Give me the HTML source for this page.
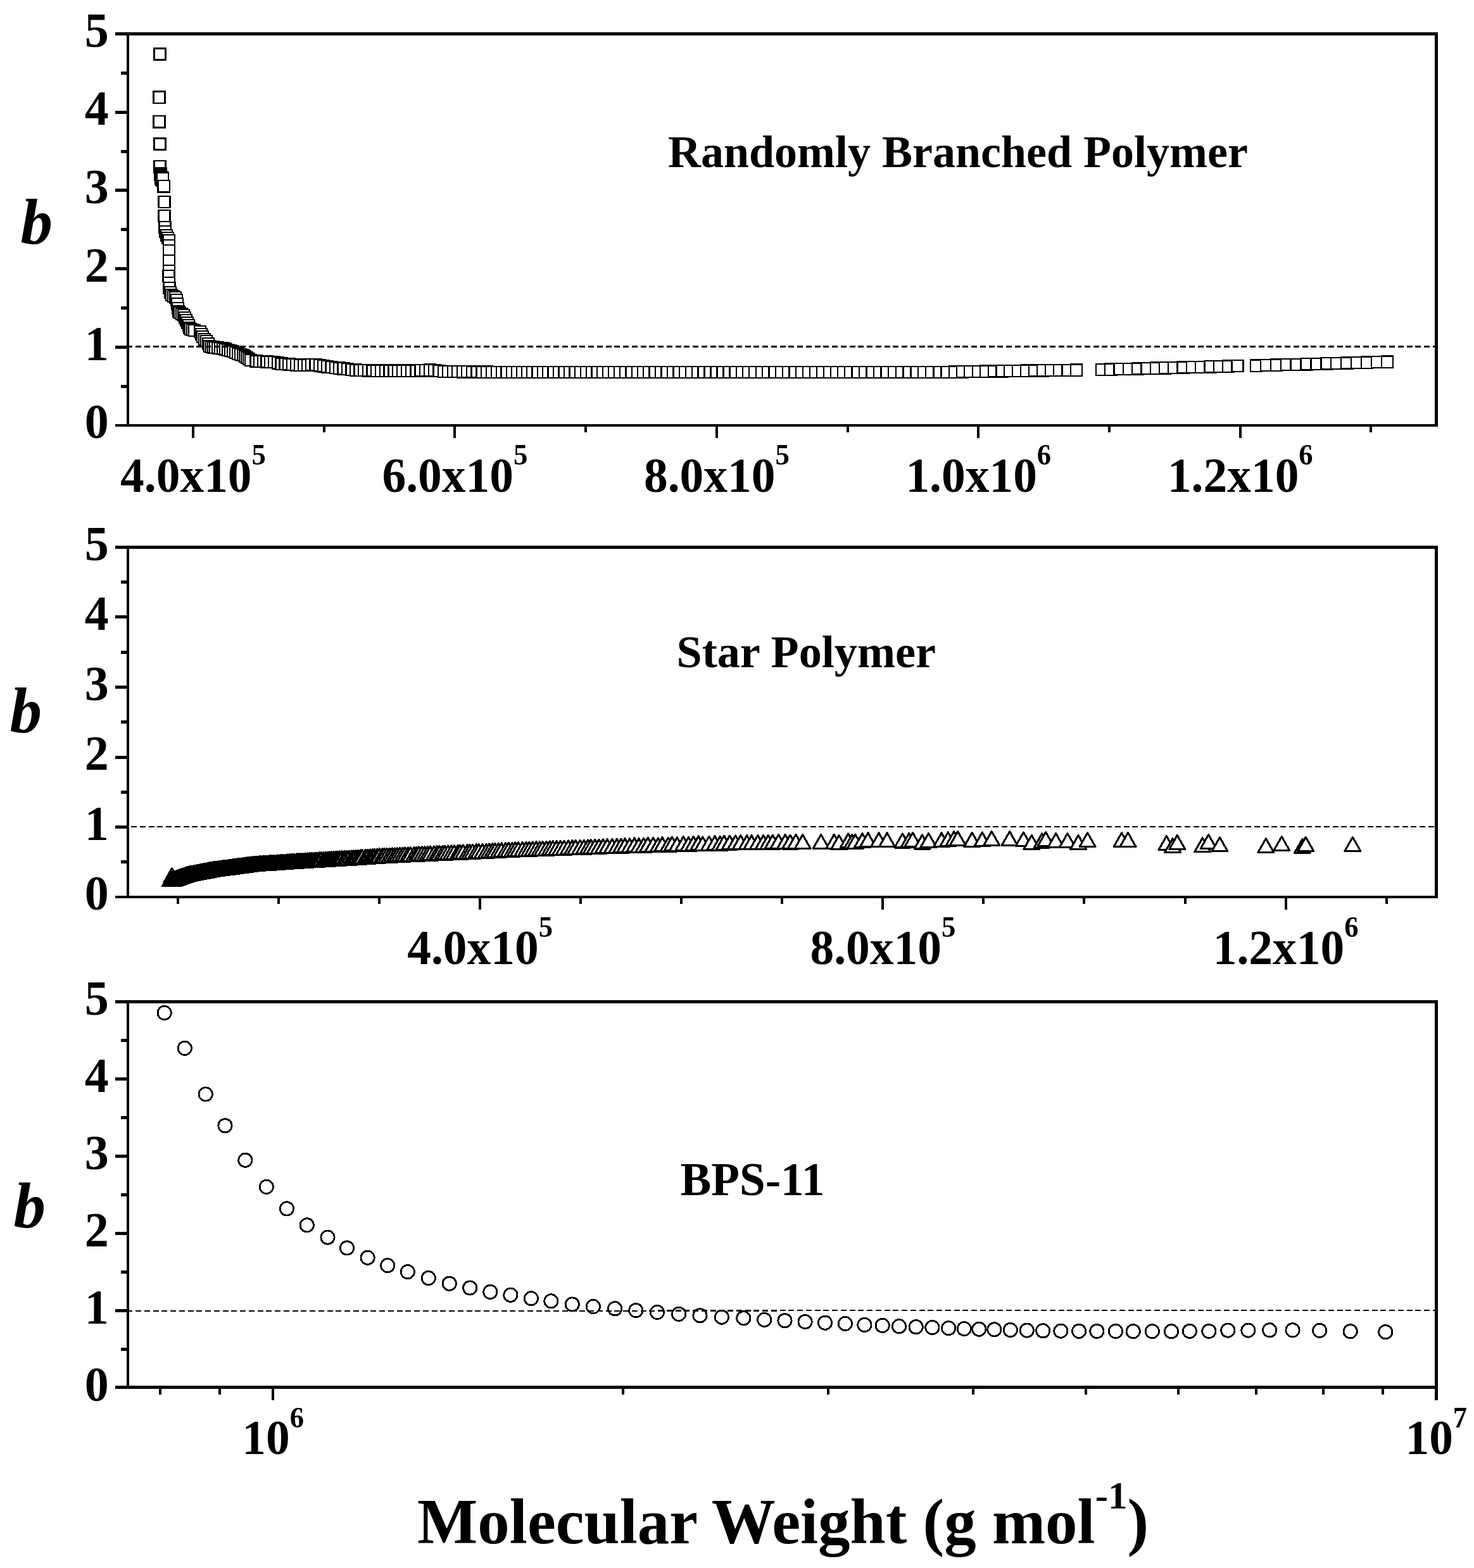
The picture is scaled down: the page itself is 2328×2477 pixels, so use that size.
<!DOCTYPE html>
<html lang="en"><head><meta charset="utf-8"><title>Figure</title>
<style>html,body{margin:0;padding:0;background:#fff;overflow:hidden}svg{display:block}</style></head>
<body>
<svg width="2328" height="2477" viewBox="0 0 2328 2477">
<rect width="2328" height="2477" fill="#fff"/>
<g fill="#000" shape-rendering="crispEdges">
<rect x="182" y="51" width="2089" height="5"/>
<rect x="182" y="670" width="2089" height="4"/>
<rect x="200" y="51" width="4" height="623"/>
<rect x="2266" y="51" width="5" height="623"/>
<rect x="182" y="546" width="18" height="5"/>
<rect x="182" y="422" width="18" height="5"/>
<rect x="182" y="298" width="18" height="5"/>
<rect x="182" y="175" width="18" height="5"/>
<rect x="191" y="608" width="9" height="5"/>
<rect x="191" y="484" width="9" height="5"/>
<rect x="191" y="360" width="9" height="5"/>
<rect x="191" y="237" width="9" height="5"/>
<rect x="191" y="113" width="9" height="5"/>
<rect x="182" y="862" width="2089" height="5"/>
<rect x="182" y="1415" width="2089" height="4"/>
<rect x="200" y="862" width="4" height="557"/>
<rect x="2266" y="862" width="5" height="557"/>
<rect x="182" y="1304" width="18" height="5"/>
<rect x="182" y="1194" width="18" height="5"/>
<rect x="182" y="1083" width="18" height="5"/>
<rect x="182" y="972" width="18" height="5"/>
<rect x="191" y="1359" width="9" height="5"/>
<rect x="191" y="1249" width="9" height="5"/>
<rect x="191" y="1138" width="9" height="5"/>
<rect x="191" y="1028" width="9" height="5"/>
<rect x="191" y="917" width="9" height="5"/>
<rect x="182" y="1580" width="2089" height="5"/>
<rect x="182" y="2189" width="2089" height="5"/>
<rect x="200" y="1580" width="4" height="614"/>
<rect x="2266" y="1580" width="5" height="614"/>
<rect x="182" y="2068" width="18" height="5"/>
<rect x="182" y="1946" width="18" height="5"/>
<rect x="182" y="1824" width="18" height="5"/>
<rect x="182" y="1702" width="18" height="5"/>
<rect x="191" y="2129" width="9" height="5"/>
<rect x="191" y="2007" width="9" height="5"/>
<rect x="191" y="1885" width="9" height="5"/>
<rect x="191" y="1763" width="9" height="5"/>
<rect x="191" y="1641" width="9" height="5"/>
<rect x="303" y="674" width="4" height="18"/>
<rect x="510" y="674" width="4" height="9"/>
<rect x="716" y="674" width="4" height="18"/>
<rect x="923" y="674" width="4" height="9"/>
<rect x="1130" y="674" width="4" height="18"/>
<rect x="1337" y="674" width="4" height="9"/>
<rect x="1543" y="674" width="4" height="18"/>
<rect x="1750" y="674" width="4" height="9"/>
<rect x="1957" y="674" width="4" height="18"/>
<rect x="2163" y="674" width="4" height="9"/>
<rect x="279" y="1419" width="4" height="9"/>
<rect x="438" y="1419" width="4" height="9"/>
<rect x="597" y="1419" width="4" height="9"/>
<rect x="756" y="1419" width="4" height="18"/>
<rect x="915" y="1419" width="4" height="9"/>
<rect x="1074" y="1419" width="4" height="9"/>
<rect x="1233" y="1419" width="4" height="9"/>
<rect x="1392" y="1419" width="4" height="18"/>
<rect x="1551" y="1419" width="4" height="9"/>
<rect x="1710" y="1419" width="4" height="9"/>
<rect x="1870" y="1419" width="4" height="9"/>
<rect x="2029" y="1419" width="4" height="18"/>
<rect x="2188" y="1419" width="4" height="9"/>
<rect x="251" y="2194" width="4" height="9"/>
<rect x="345" y="2194" width="4" height="9"/>
<rect x="429" y="2194" width="4" height="18"/>
<rect x="982" y="2194" width="4" height="9"/>
<rect x="1306" y="2194" width="4" height="9"/>
<rect x="1535" y="2194" width="4" height="9"/>
<rect x="1713" y="2194" width="4" height="9"/>
<rect x="1859" y="2194" width="4" height="9"/>
<rect x="1982" y="2194" width="4" height="9"/>
<rect x="2088" y="2194" width="4" height="9"/>
<rect x="2182" y="2194" width="4" height="9"/>
<rect x="2266" y="2194" width="5" height="18"/>
</g>
<g fill="#fff" stroke="#000" stroke-width="2.3" shape-rendering="crispEdges">
<rect x="243.4" y="76.4" width="18.2" height="18.2"/>
<rect x="242.4" y="144.5" width="18.2" height="18.2"/>
<rect x="242.4" y="183.3" width="18.2" height="18.2"/>
<rect x="243.4" y="218.4" width="18.2" height="18.2"/>
<rect x="243.4" y="254.2" width="18.2" height="18.2"/>
<rect x="244.4" y="264.9" width="18.2" height="18.2"/>
<rect x="244.6" y="266.9" width="18.2" height="18.2"/>
<rect x="244.9" y="268.9" width="18.2" height="18.2"/>
<rect x="245.2" y="270.9" width="18.2" height="18.2"/>
<rect x="245.5" y="272.9" width="18.2" height="18.2"/>
<rect x="245.9" y="273.9" width="18.2" height="18.2"/>
<rect x="246.3" y="274.9" width="18.2" height="18.2"/>
<rect x="246.7" y="275.4" width="18.2" height="18.2"/>
<rect x="247.1" y="275.4" width="18.2" height="18.2"/>
<rect x="247.9" y="272.4" width="18.2" height="18.2"/>
<rect x="249.5" y="285.2" width="18.2" height="18.2"/>
<rect x="250.4" y="310.1" width="18.2" height="18.2"/>
<rect x="250.4" y="332.0" width="18.2" height="18.2"/>
<rect x="251.4" y="350.1" width="18.2" height="18.2"/>
<rect x="251.9" y="356.9" width="18.2" height="18.2"/>
<rect x="253.9" y="362.9" width="18.2" height="18.2"/>
<rect x="255.9" y="366.9" width="18.2" height="18.2"/>
<rect x="257.9" y="370.9" width="18.2" height="18.2"/>
<rect x="257.9" y="378.9" width="18.2" height="18.2"/>
<rect x="257.9" y="386.9" width="18.2" height="18.2"/>
<rect x="257.9" y="402.9" width="18.2" height="18.2"/>
<rect x="257.9" y="418.9" width="18.2" height="18.2"/>
<rect x="257.4" y="426.9" width="18.2" height="18.2"/>
<rect x="257.9" y="437.9" width="18.2" height="18.2"/>
<rect x="258.4" y="445.9" width="18.2" height="18.2"/>
<rect x="259.9" y="452.9" width="18.2" height="18.2"/>
<rect x="261.9" y="456.9" width="18.2" height="18.2"/>
<rect x="264.9" y="458.9" width="18.2" height="18.2"/>
<rect x="267.9" y="460.9" width="18.2" height="18.2"/>
<rect x="269.9" y="464.9" width="18.2" height="18.2"/>
<rect x="270.9" y="470.9" width="18.2" height="18.2"/>
<rect x="271.9" y="477.9" width="18.2" height="18.2"/>
<rect x="272.9" y="482.9" width="18.2" height="18.2"/>
<rect x="274.9" y="484.9" width="18.2" height="18.2"/>
<rect x="277.9" y="486.9" width="18.2" height="18.2"/>
<rect x="280.9" y="488.9" width="18.2" height="18.2"/>
<rect x="282.9" y="492.9" width="18.2" height="18.2"/>
<rect x="284.9" y="496.9" width="18.2" height="18.2"/>
<rect x="286.9" y="500.9" width="18.2" height="18.2"/>
<rect x="288.9" y="504.9" width="18.2" height="18.2"/>
<rect x="289.9" y="508.9" width="18.2" height="18.2"/>
<rect x="291.9" y="510.9" width="18.2" height="18.2"/>
<rect x="294.9" y="511.9" width="18.2" height="18.2"/>
<rect x="297.9" y="512.9" width="18.2" height="18.2"/>
<rect x="306.9" y="514.9" width="18.2" height="18.2"/>
<rect x="308.9" y="518.9" width="18.2" height="18.2"/>
<rect x="310.9" y="522.9" width="18.2" height="18.2"/>
<rect x="313.9" y="526.9" width="18.2" height="18.2"/>
<rect x="316.9" y="529.9" width="18.2" height="18.2"/>
<rect x="319.9" y="533.9" width="18.2" height="18.2"/>
<rect x="321.9" y="537.9" width="18.2" height="18.2"/>
<rect x="324.9" y="538.9" width="18.2" height="18.2"/>
<rect x="327.9" y="539.4" width="18.2" height="18.2"/>
<rect x="330.9" y="539.9" width="18.2" height="18.2"/>
<rect x="334.9" y="540.4" width="18.2" height="18.2"/>
<rect x="338.9" y="540.9" width="18.2" height="18.2"/>
<rect x="342.9" y="541.4" width="18.2" height="18.2"/>
<rect x="346.9" y="542.4" width="18.2" height="18.2"/>
<rect x="350.9" y="543.9" width="18.2" height="18.2"/>
<rect x="354.9" y="544.9" width="18.2" height="18.2"/>
<rect x="358.9" y="545.9" width="18.2" height="18.2"/>
<rect x="362.9" y="547.9" width="18.2" height="18.2"/>
<rect x="366.9" y="549.9" width="18.2" height="18.2"/>
<rect x="370.9" y="550.9" width="18.2" height="18.2"/>
<rect x="374.9" y="551.9" width="18.2" height="18.2"/>
<rect x="377.9" y="553.9" width="18.2" height="18.2"/>
<rect x="380.9" y="555.9" width="18.2" height="18.2"/>
<rect x="383.9" y="557.9" width="18.2" height="18.2"/>
<rect x="386.9" y="559.9" width="18.2" height="18.2"/>
<rect x="395.6" y="561.4" width="18.2" height="18.2"/>
<rect x="401.2" y="561.7" width="18.2" height="18.2"/>
<rect x="406.8" y="562.1" width="18.2" height="18.2"/>
<rect x="412.5" y="562.4" width="18.2" height="18.2"/>
<rect x="418.2" y="562.7" width="18.2" height="18.2"/>
<rect x="424.0" y="563.1" width="18.2" height="18.2"/>
<rect x="429.7" y="564.3" width="18.2" height="18.2"/>
<rect x="435.6" y="565.5" width="18.2" height="18.2"/>
<rect x="441.4" y="566.0" width="18.2" height="18.2"/>
<rect x="447.3" y="566.4" width="18.2" height="18.2"/>
<rect x="453.2" y="566.9" width="18.2" height="18.2"/>
<rect x="459.2" y="567.3" width="18.2" height="18.2"/>
<rect x="465.2" y="567.8" width="18.2" height="18.2"/>
<rect x="471.2" y="567.7" width="18.2" height="18.2"/>
<rect x="477.2" y="567.5" width="18.2" height="18.2"/>
<rect x="483.3" y="567.3" width="18.2" height="18.2"/>
<rect x="489.5" y="567.2" width="18.2" height="18.2"/>
<rect x="495.7" y="568.2" width="18.2" height="18.2"/>
<rect x="501.9" y="569.3" width="18.2" height="18.2"/>
<rect x="508.1" y="570.3" width="18.2" height="18.2"/>
<rect x="514.4" y="571.1" width="18.2" height="18.2"/>
<rect x="520.7" y="571.8" width="18.2" height="18.2"/>
<rect x="527.1" y="572.6" width="18.2" height="18.2"/>
<rect x="533.5" y="573.3" width="18.2" height="18.2"/>
<rect x="539.9" y="574.0" width="18.2" height="18.2"/>
<rect x="546.4" y="574.8" width="18.2" height="18.2"/>
<rect x="552.9" y="575.5" width="18.2" height="18.2"/>
<rect x="559.5" y="575.7" width="18.2" height="18.2"/>
<rect x="566.1" y="576.0" width="18.2" height="18.2"/>
<rect x="572.7" y="576.2" width="18.2" height="18.2"/>
<rect x="579.4" y="576.4" width="18.2" height="18.2"/>
<rect x="586.1" y="576.6" width="18.2" height="18.2"/>
<rect x="592.9" y="576.6" width="18.2" height="18.2"/>
<rect x="599.7" y="576.6" width="18.2" height="18.2"/>
<rect x="606.5" y="576.6" width="18.2" height="18.2"/>
<rect x="613.4" y="576.6" width="18.2" height="18.2"/>
<rect x="620.3" y="576.6" width="18.2" height="18.2"/>
<rect x="627.3" y="576.6" width="18.2" height="18.2"/>
<rect x="634.3" y="576.6" width="18.2" height="18.2"/>
<rect x="641.3" y="576.6" width="18.2" height="18.2"/>
<rect x="648.4" y="576.6" width="18.2" height="18.2"/>
<rect x="655.6" y="576.3" width="18.2" height="18.2"/>
<rect x="662.7" y="575.9" width="18.2" height="18.2"/>
<rect x="670.0" y="575.5" width="18.2" height="18.2"/>
<rect x="677.2" y="576.2" width="18.2" height="18.2"/>
<rect x="684.5" y="577.1" width="18.2" height="18.2"/>
<rect x="691.9" y="577.9" width="18.2" height="18.2"/>
<rect x="699.3" y="578.0" width="18.2" height="18.2"/>
<rect x="706.7" y="578.1" width="18.2" height="18.2"/>
<rect x="714.2" y="578.1" width="18.2" height="18.2"/>
<rect x="721.8" y="578.2" width="18.2" height="18.2"/>
<rect x="729.3" y="578.3" width="18.2" height="18.2"/>
<rect x="737.0" y="578.4" width="18.2" height="18.2"/>
<rect x="744.6" y="578.4" width="18.2" height="18.2"/>
<rect x="752.4" y="578.5" width="18.2" height="18.2"/>
<rect x="760.1" y="578.6" width="18.2" height="18.2"/>
<rect x="767.9" y="578.7" width="18.2" height="18.2"/>
<rect x="775.8" y="578.7" width="18.2" height="18.2"/>
<rect x="783.7" y="578.7" width="18.2" height="18.2"/>
<rect x="791.6" y="578.7" width="18.2" height="18.2"/>
<rect x="799.7" y="578.7" width="18.2" height="18.2"/>
<rect x="807.7" y="578.7" width="18.2" height="18.2"/>
<rect x="815.8" y="578.7" width="18.2" height="18.2"/>
<rect x="823.9" y="578.7" width="18.2" height="18.2"/>
<rect x="832.1" y="578.7" width="18.2" height="18.2"/>
<rect x="840.4" y="578.7" width="18.2" height="18.2"/>
<rect x="848.7" y="578.7" width="18.2" height="18.2"/>
<rect x="857.0" y="578.7" width="18.2" height="18.2"/>
<rect x="865.4" y="578.7" width="18.2" height="18.2"/>
<rect x="873.9" y="578.7" width="18.2" height="18.2"/>
<rect x="882.4" y="578.7" width="18.2" height="18.2"/>
<rect x="890.9" y="578.7" width="18.2" height="18.2"/>
<rect x="899.5" y="578.7" width="18.2" height="18.2"/>
<rect x="908.2" y="578.7" width="18.2" height="18.2"/>
<rect x="916.9" y="578.7" width="18.2" height="18.2"/>
<rect x="925.7" y="578.7" width="18.2" height="18.2"/>
<rect x="934.5" y="578.7" width="18.2" height="18.2"/>
<rect x="943.3" y="578.7" width="18.2" height="18.2"/>
<rect x="952.3" y="578.7" width="18.2" height="18.2"/>
<rect x="961.2" y="578.7" width="18.2" height="18.2"/>
<rect x="970.3" y="578.7" width="18.2" height="18.2"/>
<rect x="979.3" y="578.7" width="18.2" height="18.2"/>
<rect x="988.5" y="578.7" width="18.2" height="18.2"/>
<rect x="997.7" y="578.7" width="18.2" height="18.2"/>
<rect x="1006.9" y="578.7" width="18.2" height="18.2"/>
<rect x="1016.2" y="578.7" width="18.2" height="18.2"/>
<rect x="1025.6" y="578.7" width="18.2" height="18.2"/>
<rect x="1035.0" y="578.7" width="18.2" height="18.2"/>
<rect x="1044.5" y="578.7" width="18.2" height="18.2"/>
<rect x="1054.0" y="578.7" width="18.2" height="18.2"/>
<rect x="1063.6" y="578.7" width="18.2" height="18.2"/>
<rect x="1073.2" y="578.7" width="18.2" height="18.2"/>
<rect x="1082.9" y="578.7" width="18.2" height="18.2"/>
<rect x="1092.7" y="578.7" width="18.2" height="18.2"/>
<rect x="1102.5" y="578.7" width="18.2" height="18.2"/>
<rect x="1112.4" y="578.7" width="18.2" height="18.2"/>
<rect x="1122.4" y="578.7" width="18.2" height="18.2"/>
<rect x="1132.4" y="578.7" width="18.2" height="18.2"/>
<rect x="1142.4" y="578.7" width="18.2" height="18.2"/>
<rect x="1152.5" y="578.7" width="18.2" height="18.2"/>
<rect x="1162.7" y="578.7" width="18.2" height="18.2"/>
<rect x="1173.0" y="578.7" width="18.2" height="18.2"/>
<rect x="1183.3" y="578.7" width="18.2" height="18.2"/>
<rect x="1193.7" y="578.7" width="18.2" height="18.2"/>
<rect x="1204.1" y="578.7" width="18.2" height="18.2"/>
<rect x="1214.6" y="578.7" width="18.2" height="18.2"/>
<rect x="1225.2" y="578.7" width="18.2" height="18.2"/>
<rect x="1235.8" y="578.7" width="18.2" height="18.2"/>
<rect x="1246.5" y="578.7" width="18.2" height="18.2"/>
<rect x="1257.2" y="578.7" width="18.2" height="18.2"/>
<rect x="1268.0" y="578.7" width="18.2" height="18.2"/>
<rect x="1278.9" y="578.7" width="18.2" height="18.2"/>
<rect x="1289.9" y="578.7" width="18.2" height="18.2"/>
<rect x="1300.9" y="578.7" width="18.2" height="18.2"/>
<rect x="1312.0" y="578.7" width="18.2" height="18.2"/>
<rect x="1323.1" y="578.7" width="18.2" height="18.2"/>
<rect x="1334.3" y="578.7" width="18.2" height="18.2"/>
<rect x="1345.6" y="578.7" width="18.2" height="18.2"/>
<rect x="1357.0" y="578.7" width="18.2" height="18.2"/>
<rect x="1368.4" y="578.7" width="18.2" height="18.2"/>
<rect x="1379.9" y="578.7" width="18.2" height="18.2"/>
<rect x="1391.5" y="578.7" width="18.2" height="18.2"/>
<rect x="1403.1" y="578.7" width="18.2" height="18.2"/>
<rect x="1414.8" y="578.7" width="18.2" height="18.2"/>
<rect x="1426.6" y="578.7" width="18.2" height="18.2"/>
<rect x="1438.4" y="578.7" width="18.2" height="18.2"/>
<rect x="1450.3" y="578.7" width="18.2" height="18.2"/>
<rect x="1462.3" y="578.7" width="18.2" height="18.2"/>
<rect x="1474.4" y="578.7" width="18.2" height="18.2"/>
<rect x="1486.5" y="578.7" width="18.2" height="18.2"/>
<rect x="1498.7" y="578.6" width="18.2" height="18.2"/>
<rect x="1511.0" y="578.3" width="18.2" height="18.2"/>
<rect x="1523.3" y="578.1" width="18.2" height="18.2"/>
<rect x="1535.8" y="577.9" width="18.2" height="18.2"/>
<rect x="1548.3" y="577.6" width="18.2" height="18.2"/>
<rect x="1560.8" y="577.4" width="18.2" height="18.2"/>
<rect x="1573.5" y="577.2" width="18.2" height="18.2"/>
<rect x="1586.2" y="577.0" width="18.2" height="18.2"/>
<rect x="1599.0" y="576.8" width="18.2" height="18.2"/>
<rect x="1611.9" y="576.6" width="18.2" height="18.2"/>
<rect x="1624.9" y="576.4" width="18.2" height="18.2"/>
<rect x="1637.9" y="576.3" width="18.2" height="18.2"/>
<rect x="1651.1" y="576.1" width="18.2" height="18.2"/>
<rect x="1664.3" y="575.9" width="18.2" height="18.2"/>
<rect x="1677.5" y="575.7" width="18.2" height="18.2"/>
<rect x="1690.9" y="575.5" width="18.2" height="18.2"/>
<rect x="1730.9" y="574.9" width="18.2" height="18.2"/>
<rect x="1745.2" y="574.5" width="18.2" height="18.2"/>
<rect x="1759.5" y="574.1" width="18.2" height="18.2"/>
<rect x="1773.8" y="573.7" width="18.2" height="18.2"/>
<rect x="1788.1" y="573.4" width="18.2" height="18.2"/>
<rect x="1802.4" y="573.0" width="18.2" height="18.2"/>
<rect x="1816.7" y="572.6" width="18.2" height="18.2"/>
<rect x="1831.0" y="572.2" width="18.2" height="18.2"/>
<rect x="1845.3" y="571.8" width="18.2" height="18.2"/>
<rect x="1859.6" y="571.4" width="18.2" height="18.2"/>
<rect x="1873.9" y="571.0" width="18.2" height="18.2"/>
<rect x="1888.2" y="570.7" width="18.2" height="18.2"/>
<rect x="1902.5" y="570.3" width="18.2" height="18.2"/>
<rect x="1916.8" y="569.9" width="18.2" height="18.2"/>
<rect x="1931.1" y="569.5" width="18.2" height="18.2"/>
<rect x="1945.4" y="569.1" width="18.2" height="18.2"/>
<rect x="1974.9" y="568.5" width="18.2" height="18.2"/>
<rect x="1990.8" y="568.1" width="18.2" height="18.2"/>
<rect x="2006.7" y="567.6" width="18.2" height="18.2"/>
<rect x="2022.7" y="567.1" width="18.2" height="18.2"/>
<rect x="2038.6" y="566.7" width="18.2" height="18.2"/>
<rect x="2054.5" y="566.2" width="18.2" height="18.2"/>
<rect x="2070.4" y="565.8" width="18.2" height="18.2"/>
<rect x="2086.4" y="565.3" width="18.2" height="18.2"/>
<rect x="2102.3" y="564.9" width="18.2" height="18.2"/>
<rect x="2118.2" y="564.4" width="18.2" height="18.2"/>
<rect x="2134.1" y="564.0" width="18.2" height="18.2"/>
<rect x="2150.1" y="563.5" width="18.2" height="18.2"/>
<rect x="2166.0" y="563.1" width="18.2" height="18.2"/>
<rect x="2181.9" y="562.6" width="18.2" height="18.2"/>
</g>
<g fill="#fff" stroke="#000" stroke-width="3.1" stroke-linejoin="round" shape-rendering="crispEdges">
<path d="M271.5 1371.8L284.0 1393.7L259.0 1393.7Z"/>
<path d="M269.0 1377.8L281.5 1399.8L256.5 1399.8Z"/>
<path d="M270.1 1377.8L282.6 1399.7L257.6 1399.7Z"/>
<path d="M271.3 1377.7L283.8 1399.6L258.8 1399.6Z"/>
<path d="M272.4 1377.6L284.9 1399.5L259.9 1399.5Z"/>
<path d="M273.5 1377.5L286.0 1399.4L261.0 1399.4Z"/>
<path d="M274.7 1377.4L287.2 1399.3L262.2 1399.3Z"/>
<path d="M275.9 1377.0L288.4 1398.9L263.4 1398.9Z"/>
<path d="M277.1 1376.6L289.6 1398.5L264.6 1398.5Z"/>
<path d="M278.2 1376.1L290.7 1398.0L265.7 1398.0Z"/>
<path d="M279.5 1375.7L292.0 1397.6L267.0 1397.6Z"/>
<path d="M280.7 1375.2L293.2 1397.1L268.2 1397.1Z"/>
<path d="M281.9 1374.7L294.4 1396.6L269.4 1396.6Z"/>
<path d="M283.1 1374.3L295.6 1396.2L270.6 1396.2Z"/>
<path d="M284.4 1373.8L296.9 1395.7L271.9 1395.7Z"/>
<path d="M285.6 1373.3L298.1 1395.2L273.1 1395.2Z"/>
<path d="M286.9 1372.9L299.4 1394.8L274.4 1394.8Z"/>
<path d="M288.2 1372.5L300.7 1394.4L275.7 1394.4Z"/>
<path d="M289.4 1372.1L301.9 1394.0L276.9 1394.0Z"/>
<path d="M290.7 1371.6L303.2 1393.5L278.2 1393.5Z"/>
<path d="M292.1 1371.2L304.6 1393.1L279.6 1393.1Z"/>
<path d="M293.4 1370.8L305.9 1392.7L280.9 1392.7Z"/>
<path d="M294.7 1370.3L307.2 1392.2L282.2 1392.2Z"/>
<path d="M296.1 1369.9L308.6 1391.8L283.6 1391.8Z"/>
<path d="M297.4 1369.5L309.9 1391.4L284.9 1391.4Z"/>
<path d="M298.8 1369.2L311.3 1391.1L286.3 1391.1Z"/>
<path d="M300.1 1368.9L312.6 1390.8L287.6 1390.8Z"/>
<path d="M301.4 1368.7L313.9 1390.6L288.9 1390.6Z"/>
<path d="M303.0 1368.4L315.5 1390.3L290.5 1390.3Z"/>
<path d="M304.2 1368.1L316.7 1390.0L291.7 1390.0Z"/>
<path d="M305.8 1367.9L318.3 1389.8L293.3 1389.8Z"/>
<path d="M307.2 1367.6L319.7 1389.5L294.7 1389.5Z"/>
<path d="M308.5 1367.3L321.0 1389.2L296.0 1389.2Z"/>
<path d="M310.2 1367.0L322.7 1388.9L297.7 1388.9Z"/>
<path d="M311.4 1366.7L323.9 1388.6L298.9 1388.6Z"/>
<path d="M313.1 1366.4L325.6 1388.3L300.6 1388.3Z"/>
<path d="M314.4 1366.2L326.9 1388.1L301.9 1388.1Z"/>
<path d="M315.9 1365.9L328.4 1387.8L303.4 1387.8Z"/>
<path d="M317.6 1365.6L330.1 1387.5L305.1 1387.5Z"/>
<path d="M319.4 1365.3L331.9 1387.2L306.9 1387.2Z"/>
<path d="M320.6 1365.0L333.1 1386.9L308.1 1386.9Z"/>
<path d="M322.2 1364.7L334.7 1386.6L309.7 1386.6Z"/>
<path d="M324.0 1364.4L336.5 1386.3L311.5 1386.3Z"/>
<path d="M325.8 1364.1L338.3 1386.0L313.3 1386.0Z"/>
<path d="M327.2 1363.8L339.7 1385.7L314.7 1385.7Z"/>
<path d="M328.7 1363.4L341.2 1385.3L316.2 1385.3Z"/>
<path d="M330.7 1363.1L343.2 1385.0L318.2 1385.0Z"/>
<path d="M331.8 1362.8L344.3 1384.7L319.3 1384.7Z"/>
<path d="M333.9 1362.5L346.4 1384.4L321.4 1384.4Z"/>
<path d="M335.3 1362.2L347.8 1384.1L322.8 1384.1Z"/>
<path d="M336.9 1361.9L349.4 1383.8L324.4 1383.8Z"/>
<path d="M338.6 1361.7L351.1 1383.6L326.1 1383.6Z"/>
<path d="M340.5 1361.5L353.0 1383.4L328.0 1383.4Z"/>
<path d="M342.5 1361.2L355.0 1383.1L330.0 1383.1Z"/>
<path d="M343.9 1361.0L356.4 1382.9L331.4 1382.9Z"/>
<path d="M345.9 1360.8L358.4 1382.7L333.4 1382.7Z"/>
<path d="M347.7 1360.5L360.2 1382.4L335.2 1382.4Z"/>
<path d="M349.4 1360.3L361.9 1382.2L336.9 1382.2Z"/>
<path d="M351.3 1360.0L363.8 1381.9L338.8 1381.9Z"/>
<path d="M352.8 1359.8L365.3 1381.7L340.3 1381.7Z"/>
<path d="M354.7 1359.6L367.2 1381.5L342.2 1381.5Z"/>
<path d="M356.6 1359.3L369.1 1381.2L344.1 1381.2Z"/>
<path d="M358.8 1359.1L371.3 1381.0L346.3 1381.0Z"/>
<path d="M360.5 1358.8L373.0 1380.7L348.0 1380.7Z"/>
<path d="M362.4 1358.6L374.9 1380.5L349.9 1380.5Z"/>
<path d="M364.5 1358.3L377.0 1380.2L352.0 1380.2Z"/>
<path d="M366.4 1358.1L378.9 1380.0L353.9 1380.0Z"/>
<path d="M368.2 1357.8L380.7 1379.7L355.7 1379.7Z"/>
<path d="M370.5 1357.5L383.0 1379.4L358.0 1379.4Z"/>
<path d="M372.5 1357.3L385.0 1379.2L360.0 1379.2Z"/>
<path d="M374.2 1357.0L386.7 1378.9L361.7 1378.9Z"/>
<path d="M376.4 1356.7L388.9 1378.6L363.9 1378.6Z"/>
<path d="M378.5 1356.5L391.0 1378.4L366.0 1378.4Z"/>
<path d="M380.8 1356.2L393.3 1378.1L368.3 1378.1Z"/>
<path d="M382.8 1355.9L395.3 1377.8L370.3 1377.8Z"/>
<path d="M384.6 1355.7L397.1 1377.6L372.1 1377.6Z"/>
<path d="M387.2 1355.4L399.7 1377.3L374.7 1377.3Z"/>
<path d="M388.7 1355.1L401.2 1377.0L376.2 1377.0Z"/>
<path d="M391.1 1354.8L403.6 1376.7L378.6 1376.7Z"/>
<path d="M393.5 1354.5L406.0 1376.4L381.0 1376.4Z"/>
<path d="M395.3 1354.2L407.8 1376.1L382.8 1376.1Z"/>
<path d="M397.7 1353.9L410.2 1375.8L385.2 1375.8Z"/>
<path d="M399.6 1353.7L412.1 1375.6L387.1 1375.6Z"/>
<path d="M402.4 1353.5L414.9 1375.4L389.9 1375.4Z"/>
<path d="M404.7 1353.4L417.2 1375.3L392.2 1375.3Z"/>
<path d="M406.9 1353.2L419.4 1375.1L394.4 1375.1Z"/>
<path d="M409.4 1353.0L421.9 1374.9L396.9 1374.9Z"/>
<path d="M411.3 1352.9L423.8 1374.8L398.8 1374.8Z"/>
<path d="M414.0 1352.7L426.5 1374.6L401.5 1374.6Z"/>
<path d="M416.3 1352.6L428.8 1374.5L403.8 1374.5Z"/>
<path d="M418.7 1352.4L431.2 1374.3L406.2 1374.3Z"/>
<path d="M421.0 1352.3L433.5 1374.2L408.5 1374.2Z"/>
<path d="M423.8 1352.1L436.3 1374.0L411.3 1374.0Z"/>
<path d="M426.3 1351.9L438.8 1373.8L413.8 1373.8Z"/>
<path d="M428.4 1351.8L440.9 1373.7L415.9 1373.7Z"/>
<path d="M431.1 1351.6L443.6 1373.5L418.6 1373.5Z"/>
<path d="M433.1 1351.4L445.6 1373.3L420.6 1373.3Z"/>
<path d="M436.2 1351.3L448.7 1373.2L423.7 1373.2Z"/>
<path d="M438.7 1351.1L451.2 1373.0L426.2 1373.0Z"/>
<path d="M441.6 1350.9L454.1 1372.8L429.1 1372.8Z"/>
<path d="M444.1 1350.7L456.6 1372.6L431.6 1372.6Z"/>
<path d="M446.2 1350.6L458.7 1372.5L433.7 1372.5Z"/>
<path d="M449.0 1350.4L461.5 1372.3L436.5 1372.3Z"/>
<path d="M451.9 1350.2L464.4 1372.1L439.4 1372.1Z"/>
<path d="M454.0 1350.0L466.5 1371.9L441.5 1371.9Z"/>
<path d="M457.2 1349.9L469.7 1371.8L444.7 1371.8Z"/>
<path d="M459.6 1349.7L472.1 1371.6L447.1 1371.6Z"/>
<path d="M462.4 1349.5L474.9 1371.4L449.9 1371.4Z"/>
<path d="M465.1 1349.3L477.6 1371.2L452.6 1371.2Z"/>
<path d="M468.6 1349.1L481.1 1371.0L456.1 1371.0Z"/>
<path d="M470.9 1348.9L483.4 1370.8L458.4 1370.8Z"/>
<path d="M473.9 1348.7L486.4 1370.6L461.4 1370.6Z"/>
<path d="M476.9 1348.5L489.4 1370.4L464.4 1370.4Z"/>
<path d="M480.3 1348.4L492.8 1370.3L467.8 1370.3Z"/>
<path d="M482.5 1348.2L495.0 1370.1L470.0 1370.1Z"/>
<path d="M485.8 1348.0L498.3 1369.9L473.3 1369.9Z"/>
<path d="M488.9 1347.8L501.4 1369.7L476.4 1369.7Z"/>
<path d="M492.3 1347.7L504.8 1369.6L479.8 1369.6Z"/>
<path d="M495.3 1347.5L507.8 1369.4L482.8 1369.4Z"/>
<path d="M498.4 1347.3L510.9 1369.2L485.9 1369.2Z"/>
<path d="M500.9 1347.1L513.4 1369.0L488.4 1369.0Z"/>
<path d="M504.2 1346.9L516.7 1368.8L491.7 1368.8Z"/>
<path d="M507.3 1346.7L519.8 1368.6L494.8 1368.6Z"/>
<path d="M511.1 1346.6L523.6 1368.5L498.6 1368.5Z"/>
<path d="M514.4 1346.4L526.9 1368.3L501.9 1368.3Z"/>
<path d="M516.7 1346.2L529.2 1368.1L504.2 1368.1Z"/>
<path d="M520.0 1346.0L532.5 1367.9L507.5 1367.9Z"/>
<path d="M523.4 1345.8L535.9 1367.7L510.9 1367.7Z"/>
<path d="M526.7 1345.6L539.2 1367.5L514.2 1367.5Z"/>
<path d="M530.3 1345.4L542.8 1367.3L517.8 1367.3Z"/>
<path d="M533.8 1345.2L546.3 1367.1L521.3 1367.1Z"/>
<path d="M536.9 1345.0L549.4 1366.9L524.4 1366.9Z"/>
<path d="M540.0 1344.8L552.5 1366.7L527.5 1366.7Z"/>
<path d="M544.0 1344.6L556.5 1366.5L531.5 1366.5Z"/>
<path d="M547.4 1344.4L559.9 1366.3L534.9 1366.3Z"/>
<path d="M551.2 1344.2L563.7 1366.1L538.7 1366.1Z"/>
<path d="M555.2 1344.0L567.7 1365.9L542.7 1365.9Z"/>
<path d="M558.5 1343.8L571.0 1365.7L546.0 1365.7Z"/>
<path d="M561.8 1343.5L574.3 1365.4L549.3 1365.4Z"/>
<path d="M565.6 1343.3L578.1 1365.2L553.1 1365.2Z"/>
<path d="M569.4 1343.0L581.9 1364.9L556.9 1364.9Z"/>
<path d="M572.3 1342.8L584.8 1364.7L559.8 1364.7Z"/>
<path d="M577.1 1342.5L589.6 1364.4L564.6 1364.4Z"/>
<path d="M580.7 1342.3L593.2 1364.2L568.2 1364.2Z"/>
<path d="M584.6 1342.0L597.1 1363.9L572.1 1363.9Z"/>
<path d="M588.3 1341.8L600.8 1363.7L575.8 1363.7Z"/>
<path d="M591.6 1341.5L604.1 1363.4L579.1 1363.4Z"/>
<path d="M595.5 1341.2L608.0 1363.1L583.0 1363.1Z"/>
<path d="M599.1 1341.0L611.6 1362.9L586.6 1362.9Z"/>
<path d="M603.7 1340.8L616.2 1362.7L591.2 1362.7Z"/>
<path d="M606.9 1340.6L619.4 1362.5L594.4 1362.5Z"/>
<path d="M610.9 1340.4L623.4 1362.3L598.4 1362.3Z"/>
<path d="M615.2 1340.2L627.7 1362.1L602.7 1362.1Z"/>
<path d="M619.2 1340.0L631.7 1361.9L606.7 1361.9Z"/>
<path d="M623.5 1339.8L636.0 1361.7L611.0 1361.7Z"/>
<path d="M627.3 1339.6L639.8 1361.5L614.8 1361.5Z"/>
<path d="M631.4 1339.4L643.9 1361.3L618.9 1361.3Z"/>
<path d="M635.8 1339.2L648.3 1361.1L623.3 1361.1Z"/>
<path d="M639.9 1339.0L652.4 1360.9L627.4 1360.9Z"/>
<path d="M644.6 1338.8L657.1 1360.7L632.1 1360.7Z"/>
<path d="M648.4 1338.6L660.9 1360.5L635.9 1360.5Z"/>
<path d="M654.0 1338.4L666.5 1360.3L641.5 1360.3Z"/>
<path d="M658.0 1338.2L670.5 1360.1L645.5 1360.1Z"/>
<path d="M661.7 1338.0L674.2 1359.9L649.2 1359.9Z"/>
<path d="M666.4 1337.8L678.9 1359.7L653.9 1359.7Z"/>
<path d="M671.0 1337.6L683.5 1359.5L658.5 1359.5Z"/>
<path d="M675.5 1337.4L688.0 1359.3L663.0 1359.3Z"/>
<path d="M679.7 1337.1L692.2 1359.0L667.2 1359.0Z"/>
<path d="M685.5 1336.9L698.0 1358.8L673.0 1358.8Z"/>
<path d="M690.3 1336.7L702.8 1358.6L677.8 1358.6Z"/>
<path d="M694.1 1336.5L706.6 1358.4L681.6 1358.4Z"/>
<path d="M698.9 1336.3L711.4 1358.2L686.4 1358.2Z"/>
<path d="M702.9 1336.1L715.4 1358.0L690.4 1358.0Z"/>
<path d="M707.7 1335.9L720.2 1357.8L695.2 1357.8Z"/>
<path d="M712.8 1335.7L725.3 1357.6L700.3 1357.6Z"/>
<path d="M717.5 1335.5L730.0 1357.4L705.0 1357.4Z"/>
<path d="M723.2 1335.3L735.7 1357.2L710.7 1357.2Z"/>
<path d="M726.9 1335.1L739.4 1357.0L714.4 1357.0Z"/>
<path d="M731.6 1334.9L744.1 1356.8L719.1 1356.8Z"/>
<path d="M738.0 1334.6L750.5 1356.5L725.5 1356.5Z"/>
<path d="M742.2 1334.4L754.7 1356.3L729.7 1356.3Z"/>
<path d="M746.5 1334.2L759.0 1356.1L734.0 1356.1Z"/>
<path d="M752.1 1334.0L764.6 1355.9L739.6 1355.9Z"/>
<path d="M756.3 1333.8L768.8 1355.7L743.8 1355.7Z"/>
<path d="M762.1 1333.5L774.6 1355.4L749.6 1355.4Z"/>
<path d="M768.0 1333.3L780.5 1355.2L755.5 1355.2Z"/>
<path d="M772.8 1333.0L785.3 1354.9L760.3 1354.9Z"/>
<path d="M777.7 1332.7L790.2 1354.6L765.2 1354.6Z"/>
<path d="M782.0 1332.5L794.5 1354.4L769.5 1354.4Z"/>
<path d="M787.4 1332.2L799.9 1354.1L774.9 1354.1Z"/>
<path d="M792.2 1331.9L804.7 1353.8L779.7 1353.8Z"/>
<path d="M798.5 1331.7L811.0 1353.6L786.0 1353.6Z"/>
<path d="M803.3 1331.4L815.8 1353.3L790.8 1353.3Z"/>
<path d="M809.1 1331.2L821.6 1353.1L796.6 1353.1Z"/>
<path d="M813.6 1331.0L826.1 1352.9L801.1 1352.9Z"/>
<path d="M818.7 1330.8L831.2 1352.7L806.2 1352.7Z"/>
<path d="M825.1 1330.6L837.6 1352.5L812.6 1352.5Z"/>
<path d="M830.9 1330.4L843.4 1352.3L818.4 1352.3Z"/>
<path d="M836.0 1330.2L848.5 1352.1L823.5 1352.1Z"/>
<path d="M841.4 1330.0L853.9 1351.9L828.9 1351.9Z"/>
<path d="M846.9 1329.8L859.4 1351.7L834.4 1351.7Z"/>
<path d="M852.3 1329.6L864.8 1351.5L839.8 1351.5Z"/>
<path d="M856.9 1329.4L869.4 1351.3L844.4 1351.3Z"/>
<path d="M863.0 1329.2L875.5 1351.1L850.5 1351.1Z"/>
<path d="M868.3 1329.0L880.8 1350.9L855.8 1350.9Z"/>
<path d="M873.3 1328.8L885.8 1350.7L860.8 1350.7Z"/>
<path d="M879.0 1328.6L891.5 1350.5L866.5 1350.5Z"/>
<path d="M885.1 1328.4L897.6 1350.3L872.6 1350.3Z"/>
<path d="M890.9 1328.2L903.4 1350.1L878.4 1350.1Z"/>
<path d="M897.6 1327.9L910.1 1349.8L885.1 1349.8Z"/>
<path d="M904.0 1327.7L916.5 1349.6L891.5 1349.6Z"/>
<path d="M909.0 1327.5L921.5 1349.4L896.5 1349.4Z"/>
<path d="M916.1 1327.3L928.6 1349.2L903.6 1349.2Z"/>
<path d="M922.3 1327.1L934.8 1349.0L909.8 1349.0Z"/>
<path d="M928.5 1326.9L941.0 1348.8L916.0 1348.8Z"/>
<path d="M933.5 1326.7L946.0 1348.6L921.0 1348.6Z"/>
<path d="M939.6 1326.4L952.1 1348.3L927.1 1348.3Z"/>
<path d="M946.0 1326.2L958.5 1348.1L933.5 1348.1Z"/>
<path d="M952.5 1326.0L965.0 1347.9L940.0 1347.9Z"/>
<path d="M959.1 1325.8L971.6 1347.7L946.6 1347.7Z"/>
<path d="M966.8 1325.5L979.3 1347.4L954.3 1347.4Z"/>
<path d="M974.2 1325.3L986.7 1347.2L961.7 1347.2Z"/>
<path d="M980.9 1325.1L993.4 1347.0L968.4 1347.0Z"/>
<path d="M987.0 1324.9L999.5 1346.8L974.5 1346.8Z"/>
<path d="M994.5 1324.7L1007.0 1346.6L982.0 1346.6Z"/>
<path d="M1002.0 1323.9L1014.5 1345.8L989.5 1345.8Z"/>
<path d="M1008.9 1324.8L1021.4 1346.7L996.4 1346.7Z"/>
<path d="M1016.5 1324.3L1029.0 1346.2L1004.0 1346.2Z"/>
<path d="M1023.2 1323.3L1035.7 1345.2L1010.7 1345.2Z"/>
<path d="M1031.6 1323.3L1044.1 1345.2L1019.1 1345.2Z"/>
<path d="M1039.3 1324.0L1051.8 1345.9L1026.8 1345.9Z"/>
<path d="M1046.0 1322.9L1058.5 1344.8L1033.5 1344.8Z"/>
<path d="M1055.5 1323.2L1068.0 1345.1L1043.0 1345.1Z"/>
<path d="M1061.4 1322.1L1073.9 1344.0L1048.9 1344.0Z"/>
<path d="M1069.4 1323.0L1081.9 1344.9L1056.9 1344.9Z"/>
<path d="M1079.3 1321.7L1091.8 1343.6L1066.8 1343.6Z"/>
<path d="M1087.5 1322.6L1100.0 1344.5L1075.0 1344.5Z"/>
<path d="M1095.2 1321.5L1107.7 1343.4L1082.7 1343.4Z"/>
<path d="M1103.1 1321.0L1115.6 1342.9L1090.6 1342.9Z"/>
<path d="M1109.8 1322.0L1122.3 1343.9L1097.3 1343.9Z"/>
<path d="M1119.9 1321.2L1132.4 1343.1L1107.4 1343.1Z"/>
<path d="M1129.0 1320.9L1141.5 1342.8L1116.5 1342.8Z"/>
<path d="M1137.2 1321.3L1149.7 1343.2L1124.7 1343.2Z"/>
<path d="M1143.7 1320.3L1156.2 1342.2L1131.2 1342.2Z"/>
<path d="M1152.4 1320.1L1164.9 1342.0L1139.9 1342.0Z"/>
<path d="M1161.7 1320.0L1174.2 1341.9L1149.2 1341.9Z"/>
<path d="M1169.7 1319.6L1182.2 1341.5L1157.2 1341.5Z"/>
<path d="M1179.7 1319.8L1192.2 1341.7L1167.2 1341.7Z"/>
<path d="M1187.0 1319.9L1199.5 1341.8L1174.5 1341.8Z"/>
<path d="M1196.9 1319.6L1209.4 1341.5L1184.4 1341.5Z"/>
<path d="M1205.6 1319.5L1218.1 1341.4L1193.1 1341.4Z"/>
<path d="M1213.2 1319.4L1225.7 1341.3L1200.7 1341.3Z"/>
<path d="M1220.3 1319.1L1232.8 1341.0L1207.8 1341.0Z"/>
<path d="M1229.6 1318.4L1242.1 1340.3L1217.1 1340.3Z"/>
<path d="M1240.1 1318.5L1252.6 1340.4L1227.6 1340.4Z"/>
<path d="M1248.0 1319.1L1260.5 1341.0L1235.5 1341.0Z"/>
<path d="M1257.0 1318.4L1269.5 1340.3L1244.5 1340.3Z"/>
<path d="M1267.7 1318.6L1280.2 1340.5L1255.2 1340.5Z"/>
<path d="M1296.6 1318.5L1309.1 1340.4L1284.1 1340.4Z"/>
<path d="M1317.4 1318.3L1329.9 1340.2L1304.9 1340.2Z"/>
<path d="M1325.1 1319.5L1337.6 1341.5L1312.6 1341.5Z"/>
<path d="M1339.7 1317.0L1352.2 1339.0L1327.2 1339.0Z"/>
<path d="M1345.7 1318.8L1358.2 1340.7L1333.2 1340.7Z"/>
<path d="M1350.8 1318.3L1363.3 1340.2L1338.3 1340.2Z"/>
<path d="M1362.0 1316.6L1374.5 1338.5L1349.5 1338.5Z"/>
<path d="M1370.9 1315.8L1383.4 1337.8L1358.4 1337.8Z"/>
<path d="M1388.0 1315.8L1400.5 1337.8L1375.5 1337.8Z"/>
<path d="M1401.0 1315.8L1413.5 1337.8L1388.5 1337.8Z"/>
<path d="M1425.4 1317.0L1437.9 1339.0L1412.9 1339.0Z"/>
<path d="M1435.6 1316.5L1448.1 1338.5L1423.1 1338.5Z"/>
<path d="M1441.6 1315.3L1454.1 1337.2L1429.1 1337.2Z"/>
<path d="M1456.5 1319.0L1469.0 1341.0L1444.0 1341.0Z"/>
<path d="M1466.5 1316.5L1479.0 1338.5L1454.0 1338.5Z"/>
<path d="M1487.0 1315.8L1499.5 1337.8L1474.5 1337.8Z"/>
<path d="M1497.3 1314.8L1509.8 1336.7L1484.8 1336.7Z"/>
<path d="M1506.7 1313.5L1519.2 1335.5L1494.2 1335.5Z"/>
<path d="M1512.7 1313.5L1525.2 1335.5L1500.2 1335.5Z"/>
<path d="M1535.3 1315.3L1547.8 1337.2L1522.8 1337.2Z"/>
<path d="M1551.3 1315.0L1563.8 1336.9L1538.8 1336.9Z"/>
<path d="M1566.2 1313.5L1578.7 1335.5L1553.7 1335.5Z"/>
<path d="M1594.6 1313.5L1607.1 1335.5L1582.1 1335.5Z"/>
<path d="M1616.5 1314.8L1629.0 1336.7L1604.0 1336.7Z"/>
<path d="M1629.4 1319.5L1641.9 1341.5L1616.9 1341.5Z"/>
<path d="M1645.7 1317.0L1658.2 1339.0L1633.2 1339.0Z"/>
<path d="M1651.7 1314.5L1664.2 1336.4L1639.2 1336.4Z"/>
<path d="M1667.6 1316.5L1680.1 1338.5L1655.1 1338.5Z"/>
<path d="M1686.0 1316.5L1698.5 1338.5L1673.5 1338.5Z"/>
<path d="M1703.1 1319.5L1715.6 1341.5L1690.6 1341.5Z"/>
<path d="M1717.6 1315.6L1730.1 1337.5L1705.1 1337.5Z"/>
<path d="M1771.6 1315.6L1784.1 1337.5L1759.1 1337.5Z"/>
<path d="M1781.5 1315.6L1794.0 1337.5L1769.0 1337.5Z"/>
<path d="M1842.4 1320.8L1854.9 1342.7L1829.9 1342.7Z"/>
<path d="M1852.1 1324.8L1864.6 1346.7L1839.6 1346.7Z"/>
<path d="M1859.3 1319.5L1871.8 1341.5L1846.8 1341.5Z"/>
<path d="M1899.2 1323.8L1911.7 1345.8L1886.7 1345.8Z"/>
<path d="M1908.7 1318.5L1921.2 1340.5L1896.2 1340.5Z"/>
<path d="M1926.5 1322.8L1939.0 1344.8L1914.0 1344.8Z"/>
<path d="M1999.4 1324.8L2011.9 1346.7L1986.9 1346.7Z"/>
<path d="M2024.3 1321.6L2036.8 1343.5L2011.8 1343.5Z"/>
<path d="M2056.9 1325.6L2069.4 1347.5L2044.4 1347.5Z"/>
<path d="M2062.2 1322.5L2074.7 1344.4L2049.7 1344.4Z"/>
<path d="M2136.3 1322.5L2148.8 1344.4L2123.8 1344.4Z"/>
</g>
<g fill="#fff" stroke="#000" stroke-width="2.8" shape-rendering="crispEdges">
<circle cx="259.7" cy="1600.0" r="10.65"/>
<circle cx="291.8" cy="1655.9" r="10.65"/>
<circle cx="324.7" cy="1728.5" r="10.65"/>
<circle cx="355.5" cy="1778.2" r="10.65"/>
<circle cx="387.4" cy="1832.8" r="10.65"/>
<circle cx="420.8" cy="1874.9" r="10.65"/>
<circle cx="452.9" cy="1909.4" r="10.65"/>
<circle cx="484.8" cy="1935.4" r="10.65"/>
<circle cx="517.5" cy="1954.6" r="10.65"/>
<circle cx="548.0" cy="1971.5" r="10.65"/>
<circle cx="580.6" cy="1986.8" r="10.65"/>
<circle cx="612.2" cy="1999.1" r="10.65"/>
<circle cx="643.8" cy="2009.2" r="10.65"/>
<circle cx="676.8" cy="2019.0" r="10.65"/>
<circle cx="709.8" cy="2027.7" r="10.65"/>
<circle cx="742.2" cy="2034.5" r="10.65"/>
<circle cx="774.3" cy="2040.9" r="10.65"/>
<circle cx="806.4" cy="2045.7" r="10.65"/>
<circle cx="838.9" cy="2051.2" r="10.65"/>
<circle cx="870.4" cy="2055.4" r="10.65"/>
<circle cx="903.8" cy="2060.5" r="10.65"/>
<circle cx="936.9" cy="2064.0" r="10.65"/>
<circle cx="971.2" cy="2067.3" r="10.65"/>
<circle cx="1004.3" cy="2070.1" r="10.65"/>
<circle cx="1038.0" cy="2073.0" r="10.65"/>
<circle cx="1072.1" cy="2075.9" r="10.65"/>
<circle cx="1105.5" cy="2078.2" r="10.65"/>
<circle cx="1139.9" cy="2080.7" r="10.65"/>
<circle cx="1174.3" cy="2082.3" r="10.65"/>
<circle cx="1207.2" cy="2084.9" r="10.65"/>
<circle cx="1239.5" cy="2086.2" r="10.65"/>
<circle cx="1271.6" cy="2088.1" r="10.65"/>
<circle cx="1303.1" cy="2089.7" r="10.65"/>
<circle cx="1334.9" cy="2091.0" r="10.65"/>
<circle cx="1365.4" cy="2092.9" r="10.65"/>
<circle cx="1393.7" cy="2093.9" r="10.65"/>
<circle cx="1420.0" cy="2095.2" r="10.65"/>
<circle cx="1446.7" cy="2096.2" r="10.65"/>
<circle cx="1472.4" cy="2097.1" r="10.65"/>
<circle cx="1498.1" cy="2098.1" r="10.65"/>
<circle cx="1522.8" cy="2099.1" r="10.65"/>
<circle cx="1546.3" cy="2099.7" r="10.65"/>
<circle cx="1570.4" cy="2100.3" r="10.65"/>
<circle cx="1595.8" cy="2101.0" r="10.65"/>
<circle cx="1621.8" cy="2101.6" r="10.65"/>
<circle cx="1647.2" cy="2102.3" r="10.65"/>
<circle cx="1675.4" cy="2102.6" r="10.65"/>
<circle cx="1704.1" cy="2102.8" r="10.65"/>
<circle cx="1732.4" cy="2102.9" r="10.65"/>
<circle cx="1762.0" cy="2103.0" r="10.65"/>
<circle cx="1789.7" cy="2103.2" r="10.65"/>
<circle cx="1819.8" cy="2103.2" r="10.65"/>
<circle cx="1850.0" cy="2103.2" r="10.65"/>
<circle cx="1878.9" cy="2102.9" r="10.65"/>
<circle cx="1909.4" cy="2102.9" r="10.65"/>
<circle cx="1939.3" cy="2101.6" r="10.65"/>
<circle cx="1971.4" cy="2101.6" r="10.65"/>
<circle cx="2005.2" cy="2101.3" r="10.65"/>
<circle cx="2041.5" cy="2101.3" r="10.65"/>
<circle cx="2084.2" cy="2101.9" r="10.65"/>
<circle cx="2132.7" cy="2103.2" r="10.65"/>
<circle cx="2188.3" cy="2104.2" r="10.65"/>
</g>
<g stroke="#000" stroke-dasharray="9 4.75" fill="none" shape-rendering="crispEdges">
<line x1="200.4" y1="547.6" x2="2266" y2="547.6" stroke-width="3"/>
<line x1="193.4" y1="1306.1" x2="2266" y2="1306.1" stroke-width="2.1"/>
<line x1="200.31" y1="2071.0" x2="2266" y2="2069.9" stroke-width="2.1"/>
</g>
<g font-family="'Liberation Serif', 'Times New Roman', serif" font-weight="bold" fill="#000">
<text transform="translate(171.8 692.2) scale(1.0 1.035)" font-size="76" text-anchor="end">0</text>
<text transform="translate(171.8 568.5) scale(1.0 1.035)" font-size="76" text-anchor="end">1</text>
<text transform="translate(171.8 444.8) scale(1.0 1.035)" font-size="76" text-anchor="end">2</text>
<text transform="translate(171.8 321.1) scale(1.0 1.035)" font-size="76" text-anchor="end">3</text>
<text transform="translate(171.8 197.4) scale(1.0 1.035)" font-size="76" text-anchor="end">4</text>
<text transform="translate(171.8 73.7) scale(1.0 1.035)" font-size="76" text-anchor="end">5</text>
<text transform="translate(171.8 1437.2) scale(1.0 1.035)" font-size="76" text-anchor="end">0</text>
<text transform="translate(171.8 1326.7) scale(1.0 1.035)" font-size="76" text-anchor="end">1</text>
<text transform="translate(171.8 1216.2) scale(1.0 1.035)" font-size="76" text-anchor="end">2</text>
<text transform="translate(171.8 1105.7) scale(1.0 1.035)" font-size="76" text-anchor="end">3</text>
<text transform="translate(171.8 995.2) scale(1.0 1.035)" font-size="76" text-anchor="end">4</text>
<text transform="translate(171.8 884.7) scale(1.0 1.035)" font-size="76" text-anchor="end">5</text>
<text transform="translate(171.8 2212.6) scale(1.0 1.035)" font-size="76" text-anchor="end">0</text>
<text transform="translate(171.8 2090.7) scale(1.0 1.035)" font-size="76" text-anchor="end">1</text>
<text transform="translate(171.8 1968.8) scale(1.0 1.035)" font-size="76" text-anchor="end">2</text>
<text transform="translate(171.8 1846.9) scale(1.0 1.035)" font-size="76" text-anchor="end">3</text>
<text transform="translate(171.8 1725.0) scale(1.0 1.035)" font-size="76" text-anchor="end">4</text>
<text transform="translate(171.8 1603.1) scale(1.0 1.035)" font-size="76" text-anchor="end">5</text>
<text transform="translate(305.0 776.8) scale(0.993 1.03)" font-size="76" text-anchor="middle">4.0x10<tspan dy="-41.5" font-size="45">5</tspan></text>
<text transform="translate(718.4 776.8) scale(0.993 1.03)" font-size="76" text-anchor="middle">6.0x10<tspan dy="-41.5" font-size="45">5</tspan></text>
<text transform="translate(1131.9 776.8) scale(0.993 1.03)" font-size="76" text-anchor="middle">8.0x10<tspan dy="-41.5" font-size="45">5</tspan></text>
<text transform="translate(1545.3 776.8) scale(0.993 1.03)" font-size="76" text-anchor="middle">1.0x10<tspan dy="-41.5" font-size="45">6</tspan></text>
<text transform="translate(1958.8 776.8) scale(0.993 1.03)" font-size="76" text-anchor="middle">1.2x10<tspan dy="-41.5" font-size="45">6</tspan></text>
<text transform="translate(758.2 1523.2) scale(0.993 1.03)" font-size="76" text-anchor="middle">4.0x10<tspan dy="-41.5" font-size="45">5</tspan></text>
<text transform="translate(1394.4 1523.2) scale(0.993 1.03)" font-size="76" text-anchor="middle">8.0x10<tspan dy="-41.5" font-size="45">5</tspan></text>
<text transform="translate(2030.6 1523.2) scale(0.993 1.03)" font-size="76" text-anchor="middle">1.2x10<tspan dy="-41.5" font-size="45">6</tspan></text>
<text transform="translate(431.2 2297.3) scale(0.993 1.03)" font-size="76" text-anchor="middle">10<tspan dy="-41.5" font-size="45">6</tspan></text>
<text transform="translate(2268.3 2297.3) scale(0.993 1.03)" font-size="76" text-anchor="middle">10<tspan dy="-41.5" font-size="45">7</tspan></text>
<text x="1055" y="264.3" font-size="72">Randomly Branched Polymer</text>
<text x="1068.5" y="1053.5" font-size="72.2">Star Polymer</text>
<text x="1074.5" y="1887.5" font-size="73.2">BPS-11</text>
<text x="659" y="2438" font-size="101">Molecular Weight (g mol<tspan dy="-55" font-size="61">-1</tspan><tspan dy="55" font-size="101">)</tspan></text>
<text x="32.4" y="385" font-size="101" font-style="italic">b</text>
<text x="15.5" y="1157" font-size="101" font-style="italic">b</text>
<text x="21.5" y="1939.2" font-size="101" font-style="italic">b</text>
</g>
</svg>
</body></html>
